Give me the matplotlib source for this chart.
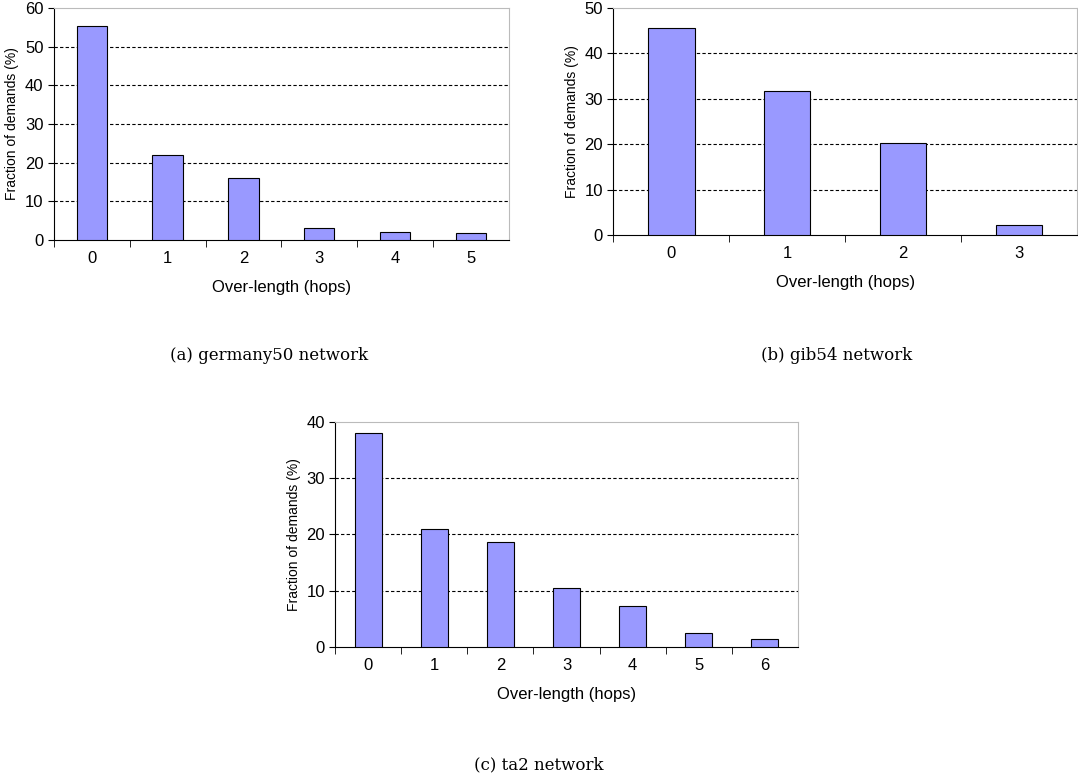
import matplotlib
matplotlib.use("Agg")
import matplotlib.pyplot as plt

plt.rcParams["font.family"] = ["Liberation Sans Narrow", "Liberation Sans", "DejaVu Sans"]

# over-length histograms (fraction of demands, %)
hops_a = [0, 1, 2, 3, 4, 5]
vals_a = [55.3, 22.0, 16.0, 3.0, 2.0, 1.7]
hops_b = [0, 1, 2, 3]
vals_b = [45.5, 31.8, 20.2, 2.2]
hops_c = [0, 1, 2, 3, 4, 5, 6]
vals_c = [38.0, 21.0, 18.6, 10.4, 7.2, 2.4, 1.3]

BAR = "#9999ff"

fig = plt.figure(figsize=(10.78, 7.84), dpi=100)


def panel(rect, hops, vals, ymax, step, caption, cap_xy):
    ax = fig.add_axes(rect)
    ax.bar(hops, vals, width=0.4, color=BAR, edgecolor="black", linewidth=0.8, zorder=3)
    ax.set_xlim(-0.5, len(hops) - 0.5)
    ax.set_ylim(0, ymax)
    ax.set_yticks(range(0, ymax + 1, step))
    ax.set_xticks(hops)
    ax.set_xticklabels([str(h) for h in hops], fontsize=12)
    ax.tick_params(axis="y", labelsize=12, length=4)
    ax.tick_params(axis="x", length=0, pad=8)
    ax.set_xticks([h + 0.5 for h in hops[:-1]] + [-0.5], minor=True)
    ax.tick_params(axis="x", which="minor", length=5)
    for y in range(step, ymax, step):
        ax.axhline(y, color="black", linestyle=(0, (3, 2)), linewidth=0.8, zorder=1)
    ax.spines["top"].set_color("#bbbbbb")
    ax.spines["right"].set_color("#bbbbbb")
    ax.set_xlabel("Over-length (hops)", fontsize=12, labelpad=10)
    ax.set_ylabel("Fraction of demands (%)", fontsize=10,
                  family=["Liberation Sans", "DejaVu Sans"], labelpad=4)
    fig.text(cap_xy[0], cap_xy[1], caption, ha="center", va="center",
             fontsize=12, family=["DejaVu Serif"])
    return ax


panel([0.050, 0.694, 0.422, 0.296], hops_a, vals_a, 60, 10,
      "(a) germany50 network", (0.25, 0.547))
panel([0.569, 0.700, 0.430, 0.290], hops_b, vals_b, 50, 10,
      "(b) gib54 network", (0.776, 0.547))
panel([0.311, 0.175, 0.429, 0.287], hops_c, vals_c, 40, 10,
      "(c) ta2 network", (0.50, 0.025))

fig.savefig("out.png", dpi=100, facecolor="white")
